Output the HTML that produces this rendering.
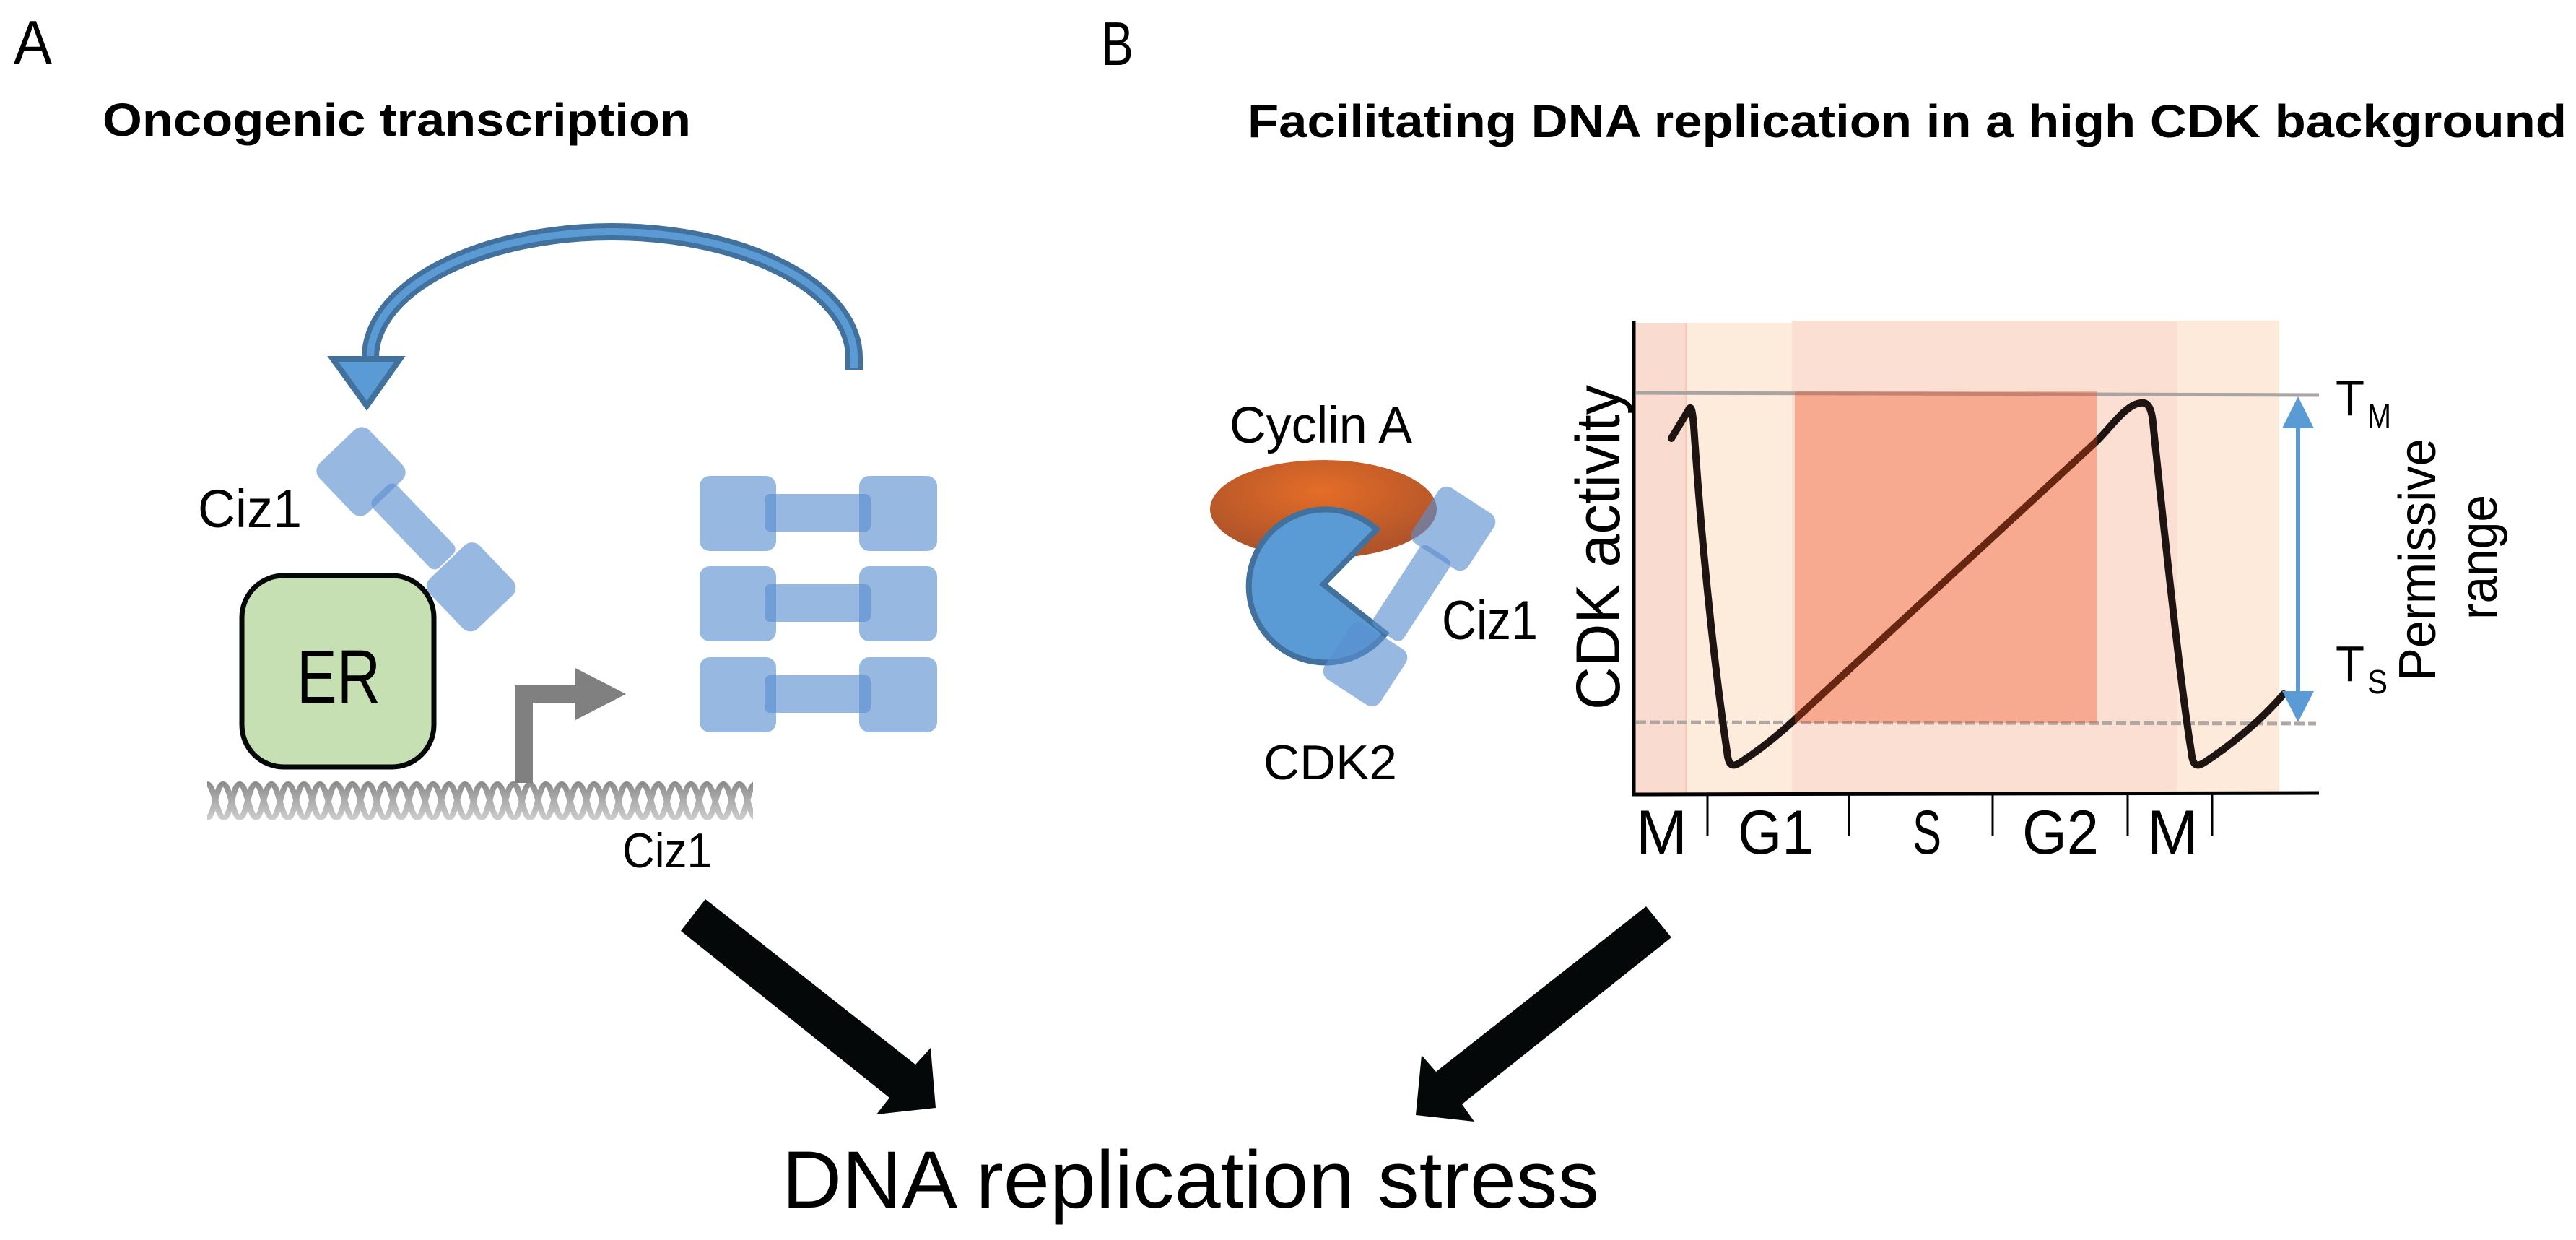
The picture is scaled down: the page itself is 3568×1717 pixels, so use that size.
<!DOCTYPE html>
<html><head><meta charset="utf-8"><style>
html,body{margin:0;padding:0;background:#fff;}
svg{display:block;}
text{font-family:"Liberation Sans",sans-serif;fill:#000;}
</style></head><body>
<svg width="3568" height="1717" viewBox="0 0 3568 1717" xmlns="http://www.w3.org/2000/svg">
<defs>
<radialGradient id="og" cx="0.49" cy="0.32" r="0.62">
<stop offset="0" stop-color="#e56d27"/><stop offset="1" stop-color="#b0542a"/>
</radialGradient>
<linearGradient id="dg" x1="0" y1="0" x2="0" y2="1">
<stop offset="0" stop-color="#8a8a8a"/><stop offset="1" stop-color="#cfcfcf"/>
</linearGradient>
<pattern id="helix" x="287" y="1082" width="67" height="54" patternUnits="userSpaceOnUse">
<path d="M0,50 C10,50 12,4 22,4 C32,4 35,50 45,50 C55,50 57,4 67,4" fill="none" stroke="#fff" stroke-width="8"/>
<path d="M-22,50 C-12,50 -10,4 0,4 C10,4 13,50 23,50 C33,50 35,4 45,4 C55,4 58,50 68,50" fill="none" stroke="#fff" stroke-width="8"/>
</pattern>
<mask id="hm" maskUnits="userSpaceOnUse" x="280" y="1075" width="770" height="70"><rect x="287" y="1082" width="756" height="54" fill="url(#helix)"/></mask>
</defs>

<text x="19" y="88" font-size="85" textLength="53" lengthAdjust="spacingAndGlyphs">A</text>
<text x="142" y="188" font-size="64" font-weight="bold" textLength="815" lengthAdjust="spacingAndGlyphs">Oncogenic transcription</text>

<path d="M1183,512 L1183,495 A335 174 0 0 0 513,495" fill="none" stroke="#41719c" stroke-width="24"/>
<path d="M1183,510 L1183,495 A335 174 0 0 0 513,495" fill="none" stroke="#5b9bd5" stroke-width="10"/>
<polygon points="461,497 554,497 508,562" fill="#5b9bd5" stroke="#41719c" stroke-width="8" stroke-linejoin="miter"/>

<rect x="335" y="797" width="266" height="265" rx="58" fill="#c6e0b4" stroke="#050808" stroke-width="7"/>
<text x="469" y="973" font-size="105" text-anchor="middle" textLength="116" lengthAdjust="spacingAndGlyphs">ER</text>

<g transform="translate(500,653) rotate(46.3)" fill="#5b8fd0" fill-opacity="0.63">
<rect x="-48" y="-48" width="96" height="96" rx="15"/>
<rect x="173" y="-48" width="96" height="96" rx="15"/>
<rect x="39" y="-23" width="132" height="46" rx="10"/>
</g>
<text x="274" y="730" font-size="74" textLength="144" lengthAdjust="spacingAndGlyphs">Ciz1</text>

<g fill="#5b8fd0" fill-opacity="0.63">
<rect x="969" y="659" width="106" height="104" rx="14"/><rect x="1190" y="659" width="108" height="104" rx="14"/><rect x="1059" y="684" width="147" height="52" rx="8"/>
<rect x="969" y="784" width="106" height="104" rx="14"/><rect x="1190" y="784" width="108" height="104" rx="14"/><rect x="1059" y="809" width="147" height="52" rx="8"/>
<rect x="969" y="910" width="106" height="104" rx="14"/><rect x="1190" y="910" width="108" height="104" rx="14"/><rect x="1059" y="935" width="147" height="52" rx="8"/>
</g>

<rect x="287" y="1082" width="756" height="54" fill="url(#dg)" mask="url(#hm)"/>

<path d="M713,1084 L713,949 L800,949 L800,973 L738,973 L738,1084 Z" fill="#808080"/>
<polygon points="797,925 797,997 867,961" fill="#808080"/>
<text x="862" y="1201" font-size="68" textLength="124" lengthAdjust="spacingAndGlyphs">Ciz1</text>

<text x="1525" y="90" font-size="85" textLength="45" lengthAdjust="spacingAndGlyphs">B</text>
<text x="1728" y="190" font-size="64" font-weight="bold" textLength="1827" lengthAdjust="spacingAndGlyphs">Facilitating DNA replication in a high CDK background</text>

<text x="1703" y="613" font-size="71" textLength="253" lengthAdjust="spacingAndGlyphs">Cyclin A</text>
<ellipse cx="1833" cy="705" rx="157" ry="68" fill="url(#og)"/>
<path d="M1907,733 A106 106 0 1 0 1919,877 L1833,809 Z" fill="#5b9bd5" stroke="#41719c" stroke-width="8" stroke-linejoin="miter"/>
<g transform="translate(2013,732) rotate(123)" fill="#5b8fd0" fill-opacity="0.63">
<rect x="-46" y="-46" width="92" height="92" rx="14"/>
<rect x="178" y="-46" width="92" height="92" rx="14"/>
<rect x="39" y="-25" width="135" height="50" rx="10"/>
</g>
<text x="1997" y="885" font-size="76" textLength="133" lengthAdjust="spacingAndGlyphs">Ciz1</text>
<text x="1750" y="1079" font-size="68" textLength="185" lengthAdjust="spacingAndGlyphs">CDK2</text>

<rect x="2263" y="447" width="72" height="652" fill="#fadbcf"/>
<rect x="2335" y="447" width="147" height="652" fill="#fdebdb"/>
<rect x="2482" y="444" width="534" height="655" fill="#fbdfd2"/>
<rect x="3016" y="444" width="141" height="655" fill="#fdeadb"/>
<line x1="2335" y1="447" x2="2335" y2="1099" stroke="#f8c9b3" stroke-width="2"/>

<line x1="2266" y1="544" x2="3212" y2="547" stroke="#a9a3a1" stroke-width="5"/>
<line x1="2266" y1="1000" x2="3208" y2="1002" stroke="#b0a6a2" stroke-width="5" stroke-dasharray="14,5"/>

<path d="M2315,607 L2338,569 C2342,560 2344,565 2346,590 C2360,800 2380,960 2392,1040 C2394,1062 2400,1062 2410,1056 C2435,1040 2460,1020 2481,1001 L2904,611 C2925,590 2945,560 2965,558 C2975,556 2980,565 2982,585 C3000,760 3022,960 3035,1040 C3037,1062 3043,1062 3053,1056 C3085,1035 3130,1000 3163,961" fill="none" stroke="#1e1412" stroke-width="10" stroke-linecap="round" stroke-linejoin="round"/>
<rect x="2486" y="542" width="418" height="459" fill="#f04713" fill-opacity="0.35"/>

<line x1="2263" y1="445" x2="2263" y2="1102" stroke="#000" stroke-width="5"/>
<line x1="2261" y1="1100" x2="3212" y2="1098" stroke="#000" stroke-width="5"/>
<g stroke="#000" stroke-width="3">
<line x1="2365" y1="1100" x2="2365" y2="1158"/>
<line x1="2561" y1="1100" x2="2561" y2="1158"/>
<line x1="2760" y1="1100" x2="2760" y2="1158"/>
<line x1="2947" y1="1100" x2="2947" y2="1158"/>
<line x1="3064" y1="1100" x2="3064" y2="1158"/>
</g>
<g font-size="86">
<text x="2266" y="1182" textLength="71" lengthAdjust="spacingAndGlyphs">M</text>
<text x="2407" y="1182" textLength="105" lengthAdjust="spacingAndGlyphs">G1</text>
<text x="2649" y="1182" textLength="40" lengthAdjust="spacingAndGlyphs">S</text>
<text x="2801" y="1182" textLength="106" lengthAdjust="spacingAndGlyphs">G2</text>
<text x="2974" y="1182" textLength="71" lengthAdjust="spacingAndGlyphs">M</text>
</g>
<text transform="translate(2243,983) rotate(-90)" font-size="86" textLength="450" lengthAdjust="spacingAndGlyphs">CDK activity</text>

<line x1="3183" y1="590" x2="3183" y2="960" stroke="#5b9bd5" stroke-width="6"/>
<polygon points="3183,549 3161,593 3205,593" fill="#5b9bd5"/>
<polygon points="3183,1000 3161,957 3205,957" fill="#5b9bd5"/>
<text x="3235" y="575" font-size="70" textLength="40" lengthAdjust="spacingAndGlyphs">T</text>
<text x="3279" y="592" font-size="46" textLength="33" lengthAdjust="spacingAndGlyphs">M</text>
<text x="3235" y="943" font-size="70" textLength="40" lengthAdjust="spacingAndGlyphs">T</text>
<text x="3279" y="960" font-size="46" textLength="28" lengthAdjust="spacingAndGlyphs">S</text>
<text transform="translate(3373,943) rotate(-90)" font-size="72" textLength="336" lengthAdjust="spacingAndGlyphs">Permissive</text>
<text transform="translate(3458,858) rotate(-90)" font-size="72" textLength="173" lengthAdjust="spacingAndGlyphs">range</text>

<polygon points="977,1245 943,1289 1232,1520 1214,1543 1296,1534 1289,1451 1268,1474" fill="#040808"/>
<polygon points="2280,1255 2315,1298 2025,1529 2042,1553 1961,1544 1969,1461 1989,1484" fill="#040808"/>

<text x="1083" y="1672" font-size="112" textLength="1132" lengthAdjust="spacingAndGlyphs">DNA replication stress</text>
</svg>
</body></html>
